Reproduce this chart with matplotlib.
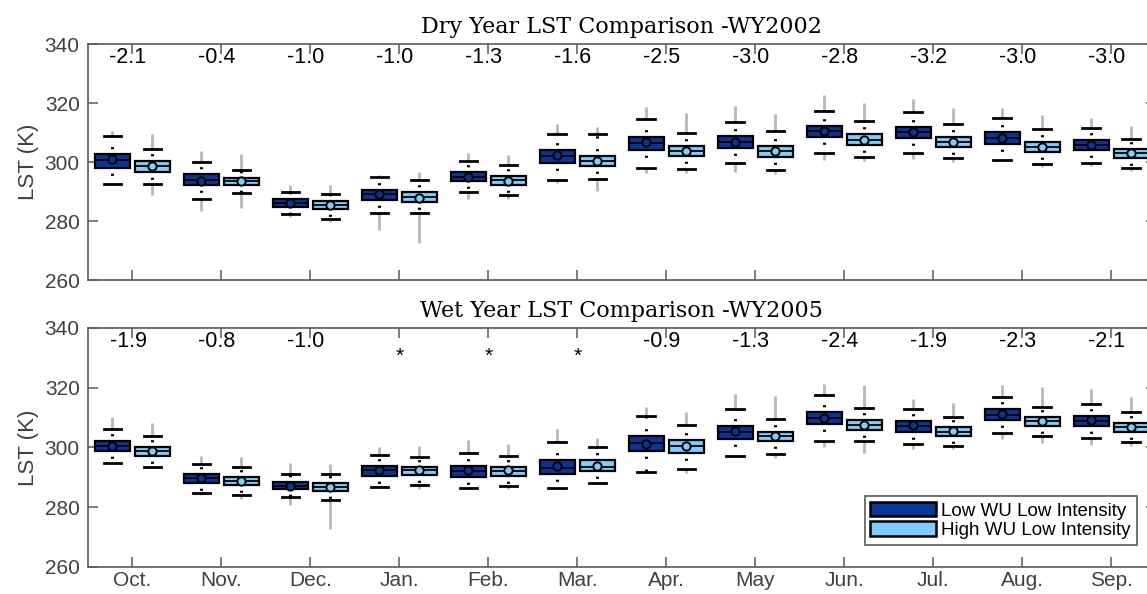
import matplotlib
matplotlib.use('Agg')
import matplotlib.pyplot as plt
from matplotlib.patches import Patch

plt.rcParams['font.family'] = ['Liberation Sans', 'DejaVu Sans']

months = ['Oct.', 'Nov.', 'Dec.', 'Jan.', 'Feb.', 'Mar.', 'Apr.', 'May', 'Jun.', 'Jul.', 'Aug.', 'Sep.']

# dry year (WY2002), low WU low intensity
dry_low_whislo = [292.5, 287.5, 282.3, 282.8, 289.7, 293.9, 298.1, 299.6, 303.2, 303.0, 300.6, 299.8]
dry_low_q1 = [297.9, 292.1, 284.9, 287.1, 293.5, 299.8, 304.1, 304.6, 308.4, 308.1, 306.0, 304.0]
dry_low_med = [300.7, 293.8, 286.2, 289.1, 295.0, 302.0, 306.6, 306.8, 310.4, 310.2, 308.1, 305.9]
dry_low_mean = [300.9, 293.6, 286.2, 289.2, 295.0, 302.3, 306.8, 306.8, 310.4, 310.3, 308.2, 305.9]
dry_low_q3 = [302.7, 295.8, 287.4, 290.5, 296.6, 304.1, 308.6, 308.8, 312.3, 312.0, 310.1, 307.5]
dry_low_whishi = [308.8, 300.0, 289.7, 294.9, 300.2, 309.6, 314.5, 313.7, 317.4, 317.1, 315.0, 311.6]
dry_low_outhi = [310.5, 303.8, 292.2, 295.6, 303.2, 312.9, 318.5, 319.0, 322.7, 321.4, 318.2, 314.8]
dry_low_outlo = [292.5, 283.5, 281.3, 277.0, 287.5, 292.8, 296.4, 296.7, 300.7, 300.9, 300.2, 298.8]

# dry year (WY2002), high WU low intensity
dry_high_whislo = [292.5, 289.6, 280.8, 282.6, 288.7, 294.2, 297.7, 297.2, 301.6, 301.4, 299.3, 298.1]
dry_high_q1 = [296.7, 292.2, 284.0, 286.4, 292.3, 298.6, 302.0, 301.8, 305.9, 305.2, 303.3, 301.5]
dry_high_med = [298.7, 293.6, 285.3, 288.0, 293.8, 300.4, 303.7, 303.8, 307.6, 306.9, 305.1, 302.9]
dry_high_mean = [298.7, 293.6, 285.3, 287.7, 293.7, 300.2, 303.7, 303.8, 307.5, 306.8, 305.2, 302.9]
dry_high_q3 = [300.2, 294.7, 286.7, 289.7, 295.4, 302.1, 305.4, 305.5, 309.4, 308.6, 306.8, 304.3]
dry_high_whishi = [304.3, 297.3, 289.3, 293.8, 298.9, 309.5, 309.9, 310.5, 313.9, 312.9, 311.1, 307.7]
dry_high_outhi = [309.4, 302.7, 292.2, 296.7, 302.4, 312.0, 316.7, 316.2, 320.1, 318.2, 315.9, 312.3]
dry_high_outlo = [288.8, 284.3, 279.8, 272.4, 287.5, 290.2, 296.2, 296.0, 300.4, 300.1, 298.4, 297.1]

# wet year (WY2005), low WU low intensity
wet_low_whislo = [294.7, 284.9, 283.4, 286.7, 286.5, 286.5, 291.9, 297.3, 302.3, 301.2, 305.0, 303.1]
wet_low_q1 = [298.7, 288.2, 286.1, 290.6, 290.2, 291.1, 298.7, 302.8, 307.8, 305.3, 309.2, 307.1]
wet_low_med = [300.5, 289.7, 287.2, 292.4, 292.1, 293.0, 301.6, 305.2, 309.9, 307.1, 311.0, 308.9]
wet_low_mean = [300.5, 289.7, 287.2, 292.4, 292.3, 293.8, 301.2, 305.4, 309.9, 307.5, 311.1, 309.1]
wet_low_q3 = [302.3, 291.2, 288.5, 293.7, 293.9, 295.9, 303.9, 307.2, 311.9, 308.8, 312.8, 310.5]
wet_low_whishi = [306.3, 294.6, 291.2, 297.5, 298.1, 301.8, 310.5, 312.8, 317.6, 312.8, 316.9, 314.7]
wet_low_outhi = [310.3, 297.3, 294.7, 300.3, 302.5, 306.1, 313.7, 317.9, 321.2, 316.1, 320.8, 319.7]
wet_low_outlo = [294.7, 284.1, 280.8, 286.7, 286.5, 286.5, 291.9, 297.3, 300.3, 299.4, 302.7, 300.7]

# wet year (WY2005), high WU low intensity
wet_high_whislo = [293.6, 284.1, 282.4, 287.4, 287.1, 288.2, 292.8, 297.9, 302.1, 300.4, 304.0, 301.7]
wet_high_q1 = [297.3, 287.5, 285.5, 290.7, 290.6, 292.1, 298.3, 302.0, 305.9, 303.8, 307.3, 305.3]
wet_high_med = [298.8, 288.9, 286.8, 292.4, 292.0, 293.6, 300.4, 303.7, 307.5, 305.3, 308.8, 306.9]
wet_high_mean = [298.8, 288.7, 286.6, 292.4, 292.3, 293.9, 300.4, 303.9, 307.6, 305.4, 309.0, 306.9]
wet_high_q3 = [300.3, 290.1, 288.1, 293.5, 293.5, 295.7, 302.4, 305.3, 309.1, 306.9, 310.2, 308.1]
wet_high_whishi = [303.9, 293.6, 291.2, 296.8, 297.3, 300.3, 307.5, 309.5, 313.1, 310.2, 313.7, 311.9]
wet_high_outhi = [308.1, 296.9, 294.5, 300.5, 301.0, 303.1, 312.0, 317.2, 320.9, 315.0, 320.1, 317.0]
wet_high_outlo = [293.6, 282.8, 272.6, 286.1, 286.0, 288.2, 291.4, 296.4, 298.3, 299.6, 301.4, 300.5]

# mean differences printed above each month ('*' = not significant)
dry_diff = ['-2.1', '-0.4', '-1.0', '-1.0', '-1.3', '-1.6', '-2.5', '-3.0', '-2.8', '-3.2', '-3.0', '-3.0']
wet_diff = ['-1.9', '-0.8', '-1.0', '*', '*', '*', '-0.9', '-1.3', '-2.4', '-1.9', '-2.3', '-2.1']

dark = '#0a3594'
light = '#80ccfa'
axcol = '#5a5a5a'
txtcol = '#404040'


def make_stats(whislo, q1, med, mean, q3, whishi):
    return [dict(whislo=a, q1=b, med=c, mean=d, q3=e, whishi=f, fliers=[])
            for a, b, c, d, e, f in zip(whislo, q1, med, mean, q3, whishi)]


def draw_group(ax, pos, stats, outlo, outhi, fill):
    lo = [s['whislo'] for s in stats]
    hi = [s['whishi'] for s in stats]
    ax.vlines(pos, hi, outhi, color='#b8b8b8', lw=2.0, zorder=1)
    ax.vlines(pos, outlo, lo, color='#b8b8b8', lw=2.0, zorder=1)
    ax.bxp(stats, positions=pos, widths=0.4, patch_artist=True, showmeans=True,
           showfliers=False, manage_ticks=False, capwidths=0.2,
           boxprops=dict(facecolor=fill, edgecolor='black', linewidth=1.6),
           medianprops=dict(color='black', linewidth=1.3),
           whiskerprops=dict(color='black', linewidth=2.2, linestyle=(2.5, (0.7, 3.5))),
           capprops=dict(color='black', linewidth=2),
           meanprops=dict(marker='o', markerfacecolor=fill, markeredgecolor='black',
                          markersize=6, markeredgewidth=1.4))


fig = plt.figure(figsize=(11.47, 5.94), dpi=100)
ax1 = fig.add_axes([0.0767, 0.5286, 0.931, 0.3973])
ax2 = fig.add_axes([0.0767, 0.0455, 0.931, 0.4024])

x = list(range(1, 13))
xl = [i - 0.225 for i in x]
xh = [i + 0.225 for i in x]

panels = [
    (ax1, 'Dry Year LST Comparison -WY2002', dry_diff,
     make_stats(dry_low_whislo, dry_low_q1, dry_low_med, dry_low_mean, dry_low_q3, dry_low_whishi),
     dry_low_outlo, dry_low_outhi,
     make_stats(dry_high_whislo, dry_high_q1, dry_high_med, dry_high_mean, dry_high_q3, dry_high_whishi),
     dry_high_outlo, dry_high_outhi),
    (ax2, 'Wet Year LST Comparison -WY2005', wet_diff,
     make_stats(wet_low_whislo, wet_low_q1, wet_low_med, wet_low_mean, wet_low_q3, wet_low_whishi),
     wet_low_outlo, wet_low_outhi,
     make_stats(wet_high_whislo, wet_high_q1, wet_high_med, wet_high_mean, wet_high_q3, wet_high_whishi),
     wet_high_outlo, wet_high_outhi),
]

for ax, title, diffs, st_lo, olo_lo, ohi_lo, st_hi, olo_hi, ohi_hi in panels:
    draw_group(ax, xl, st_lo, olo_lo, ohi_lo, dark)
    draw_group(ax, xh, st_hi, olo_hi, ohi_hi, light)

    for i, d in enumerate(diffs):
        if d == '*':
            ax.text(x[i], 330.5, d, ha='center', va='center', fontsize=15, color='black')
        else:
            ax.text(x[i] - 0.05, 335.4, d, ha='center', va='center', fontsize=15.5, color='black')

    ax.set_xlim(0.5, 12.5)
    ax.set_ylim(260, 340)
    ax.set_yticks([260, 280, 300, 320, 340])
    ax.set_xticks(x)
    ax.set_ylabel('LST (K)', fontsize=16, color=txtcol, labelpad=4)
    ax.set_title(title, family='DejaVu Serif', fontsize=16, pad=8, color='black')
    ax.tick_params(direction='in', length=7, width=1.1, top=True, right=True,
                   color=axcol, labelcolor=txtcol, labelsize=15, pad=6)
    for sp in ax.spines.values():
        sp.set_color(axcol)
        sp.set_linewidth(1.2)

ax1.set_xticklabels([])
ax2.set_xticklabels(months)
ax2.tick_params(axis='x', pad=3)

handles = [Patch(facecolor=dark, edgecolor='black', linewidth=1.8, label='Low WU Low Intensity'),
           Patch(facecolor=light, edgecolor='black', linewidth=1.8, label='High WU Low Intensity')]
leg = ax2.legend(handles=handles, loc='lower right', bbox_to_anchor=(0.982, 0.092),
                 borderaxespad=0, fontsize=13.5, handlelength=3.5, handleheight=0.85,
                 labelspacing=0.1, handletextpad=0.3, borderpad=0.3,
                 fancybox=False, framealpha=1, edgecolor=axcol)
leg.get_frame().set_linewidth(1.2)
for t in leg.get_texts():
    t.set_color('black')

fig.savefig('out.png', dpi=100)
